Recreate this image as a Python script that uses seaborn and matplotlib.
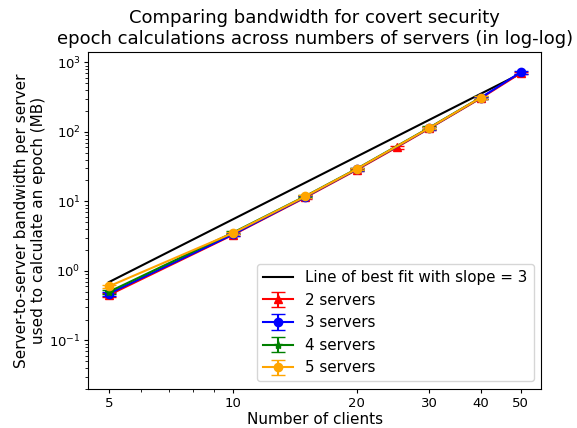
import numpy as np
import pandas as pd
import matplotlib
matplotlib.use("Agg")
import matplotlib.pyplot as plt
import seaborn as sns

# ── data ────────────────────────────────────────────────────
fit_x = [5, 50]
fit_y = [0.69, 690]

x_2 = [5, 10, 15, 20, 25, 30, 40, 50]
y_2 = [0.45, 3.3, 11.4, 28.5, 60, 112, 305, 700]
e_2 = [0.03, 0.15, 0.5, 1.2, 2.5, 5, 12, 30]

x_3 = [5, 10, 15, 20, 30, 40, 50]
y_3 = [0.47, 3.35, 11.6, 29, 113, 310, 720]
e_3 = [0.03, 0.15, 0.5, 1.2, 5, 12, 30]

x_4 = [5, 10, 15, 20, 30, 40]
y_4 = [0.50, 3.55, 11.9, 29.5, 115, 312]
e_4 = [0.03, 0.15, 0.5, 1.2, 5, 12]

x_5 = [5, 10, 15, 20, 30, 40]
y_5 = [0.60, 3.5, 11.8, 29.3, 114, 311]
e_5 = [0.03, 0.15, 0.5, 1.2, 5, 12]

series = [
    ("2 servers", x_2, y_2, e_2, "red", "^"),
    ("3 servers", x_3, y_3, e_3, "blue", "o"),
    ("4 servers", x_4, y_4, e_4, "green", "*"),
    ("5 servers", x_5, y_5, e_5, "orange", "o"),
]

fig, ax = plt.subplots(figsize=(5.77, 4.28), dpi=100)

sns.lineplot(x=fit_x, y=fit_y, color="black", ax=ax,
             label="Line of best fit with slope = 3")

for label, xs, ys, es, color, marker in series:
    ax.errorbar(xs, ys, yerr=es, color=color, marker=marker,
                capsize=5, label=label)

ax.set_xscale("log")
ax.set_yscale("log")
ax.set_ylim(0.02, 1400)
ax.set_xticks([5, 10, 20, 30, 40, 50])
ax.set_xticklabels(["5", "10", "20", "30", "40", "50"])
ax.tick_params(which="major", length=3, pad=2.5, labelsize=9.5)
ax.tick_params(which="minor", length=2)

ax.set_title("Comparing bandwidth for covert security\n"
             "epoch calculations across numbers of servers (in log-log)",
             fontsize=13)
ax.set_xlabel("Number of clients", fontsize=11, labelpad=2)
ax.set_ylabel("Server-to-server bandwidth per server\n"
              "used to calculate an epoch (MB)", fontsize=11, labelpad=2)
ax.legend(loc="lower right", fontsize=10.9)

fig.subplots_adjust(left=0.153, right=0.938, top=0.878, bottom=0.091)
fig.savefig("out.png", dpi=100)
